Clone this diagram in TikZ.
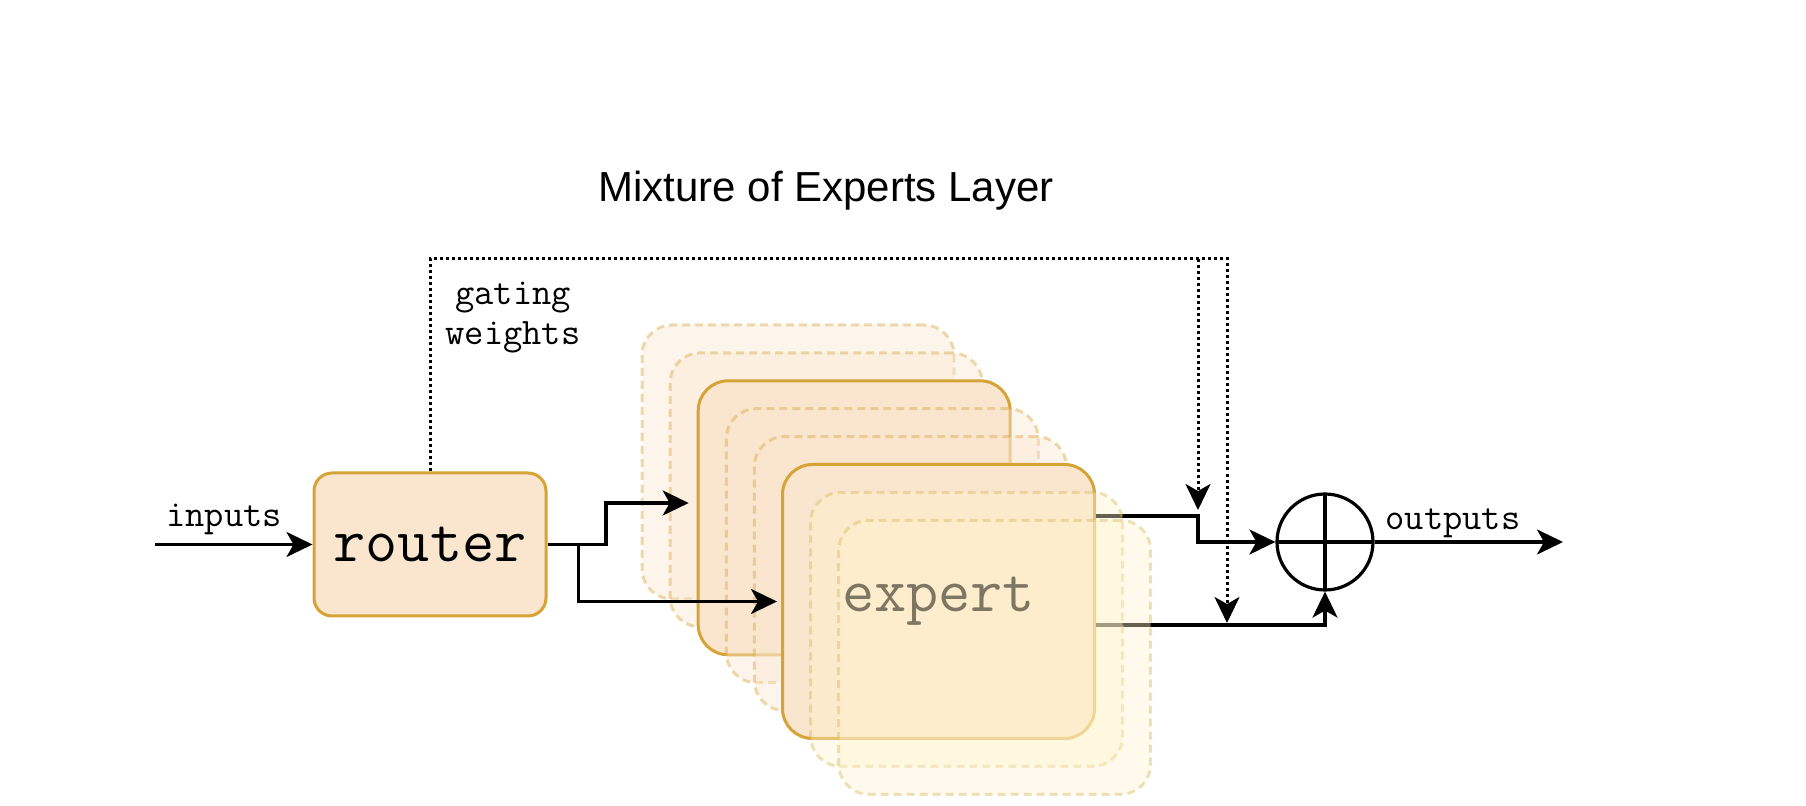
\documentclass[tikz,border=0pt]{standalone}
\usepackage{fontspec}
\newfontfamily\titlefont{Liberation Sans}
\usetikzlibrary{arrows.meta}

\definecolor{peach}{RGB}{250,230,207}
\definecolor{gold}{RGB}{214,163,54}
\definecolor{lemon}{RGB}{255,242,204}
\definecolor{lemonline}{RGB}{214,182,86}
\definecolor{dimtext}{RGB}{125,118,98}

\begin{document}
\begin{tikzpicture}[
        x=0.5pt, y=-0.5pt, % one unit = one pixel of the sketch
        flow/.style={line width=1.6pt, -{Stealth[length=13pt, width=12.5pt, inset=3.5pt]}},
        gate/.style={flow, line width=1.5pt, dash pattern=on 1.5pt off 1.5pt},
        box/.style={rectangle, rounded corners=15pt, minimum width=156pt, minimum height=137pt, line width=1.5pt, inner sep=0pt},
        expert/.style={box, draw=gold, fill=peach},
        ghost/.style={box, dash pattern=on 4pt off 2.5pt, draw=gold, draw opacity=0.4, fill=peach, fill opacity=0.4},
        shade/.style={box, dash pattern=on 4pt off 2.5pt, draw=lemonline, draw opacity=0.4, fill=lemon, fill opacity=0.4},
        word/.style={font=\fontsize{18.7}{20}\selectfont\ttfamily},
        big/.style={font=\fontsize{31.2}{36}\selectfont\ttfamily}
    ]
    \useasboundingbox (0,0) rectangle (1806,806);

    % Title
    \node[font=\titlefont\fontsize{21}{25}\selectfont, anchor=base] (title) at (826,202) {Mixture of Experts Layer};

    % Router
    \node[box, draw=gold, fill=peach, minimum width=116pt, minimum height=71.5pt, rounded corners=9pt, big] (router) at (430,544.5) {router};

    % Stack of experts (back to front)
    \node[ghost] (expA) at (798,462) {};
    \node[ghost] (expA2) at (826.1,489.9) {};
    \node[expert] (expB) at (854.2,517.8) {};
    \node[ghost] (expC) at (882.3,545.7) {};
    \node[ghost] (expD) at (910.4,573.6) {};
    \node[expert] (expE) at (938.5,601.5) {};

    % Inputs
    \node[word, anchor=base] (inlbl) at (224,527) {inputs};
    \coordinate (src) at (155,544.5);
    \draw[flow] (src) -- (router.west);

    % Router to experts
    \coordinate (fork) at ([xshift=15.5pt]router.east);
    \coordinate (rise) at (606,503);
    \draw[flow, shorten >=4pt] (router.east) -| (rise) -- (expB.west |- rise);
    \draw[flow, shorten >=2pt] (fork) |- (expE.west);

    % Combine
    \node[circle, draw, line width=1.6pt, minimum size=48pt, inner sep=0pt,
        path picture={\draw[line width=1.6pt] (path picture bounding box.north) -- (path picture bounding box.south)
            (path picture bounding box.west) -- (path picture bounding box.east);}] (sum) at (1325,542) {};
    \coordinate (j1) at (1198,516);
    \coordinate (j2) at (1227,625);
    \draw[flow] (expE.east |- j1) -- (j1) |- (sum.west);
    \draw[flow] (expE.east |- j2) -| (sum.south);

    % Gating weights
    \coordinate (gright) at (1227,259);
    \draw[gate, shorten >=1pt] (router.north) |- (gright) -- (j2);
    \draw[gate, shorten >=3pt] (j1 |- gright) -- (j1);
    \node[word, align=center] (gw) at (513,318) {gating\\weights};

    % Outputs
    \coordinate (dst) at (1563,542);
    \draw[flow] (sum.east) -- (dst);
    \node[word, anchor=base] (outlbl) at (1453,530) {outputs};

    % Front shadows
    \node[shade] (expF) at (966.6,629.4) {};
    \node[shade] (expG) at (994.7,657.3) {};
    \node[big, text=dimtext] (explbl) at (expE) {expert};

\end{tikzpicture}
\end{document}
